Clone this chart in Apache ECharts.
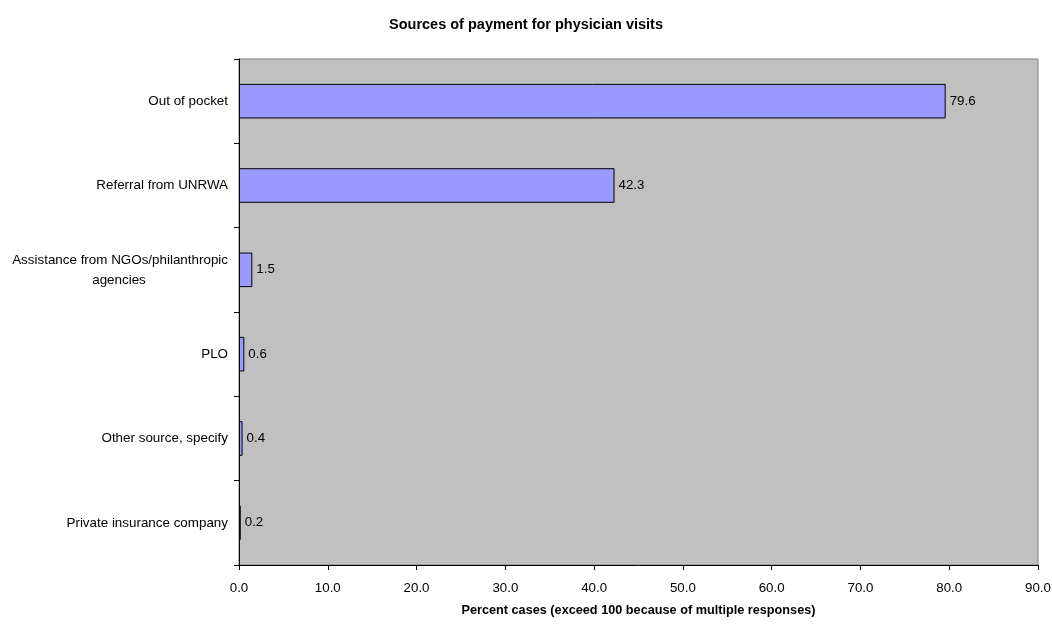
<!DOCTYPE html>
<html><head><meta charset="utf-8">
<script src="https://cdn.jsdelivr.net/npm/echarts@6/dist/echarts.min.js"></script>
<style>html,body{margin:0;padding:0;background:#fff}#c{width:1052px;height:625px}</style>
</head><body><div id="c"></div>
<script>
const categories = ['Private insurance company','Other source, specify','PLO','Assistance from NGOs/philanthropic agencies','Referral from UNRWA','Out of pocket'];
const values = [0.2, 0.4, 0.6, 1.5, 42.3, 79.6];
const xTicks = [0, 10, 20, 30, 40, 50, 60, 70, 80, 90];

const chart = echarts.init(document.getElementById('c'));
const font = "'Liberation Sans', Arial, sans-serif";
chart.setOption({
  animation: false,
  title: {
    text: 'Sources of payment for physician visits',
    left: 'center', top: 12,
    textStyle: { fontFamily: font, fontSize: 14.5, fontWeight: 'bold', color: '#000' }
  },
  grid: {
    left: 239, right: 14, top: 59, bottom: 60, outerBoundsMode: 'none', containLabel: false,
    show: true, backgroundColor: '#C0C0C0', borderColor: '#808080', borderWidth: 1
  },
  xAxis: {
    type: 'value', min: xTicks[0], max: xTicks[xTicks.length-1], interval: 10,
    name: 'Percent cases (exceed 100 because of multiple responses)',
    nameLocation: 'middle', nameGap: 39,
    nameTextStyle: { fontFamily: font, fontSize: 12.7, fontWeight: 'bold', color: '#000' },
    axisLine: { show: true, lineStyle: { color: '#000', width: 1 } },
    axisTick: { show: true, length: 5, lineStyle: { color: '#000' } },
    axisLabel: { fontFamily: font, fontSize: 13.3, color: '#000', margin: 17, formatter: v => v.toFixed(1) },
    splitLine: { show: false }
  },
  yAxis: {
    type: 'category', data: categories,
    axisLine: { show: true, lineStyle: { color: '#000', width: 1 } },
    axisTick: { show: true, length: 5, lineStyle: { color: '#000' } },
    axisLabel: {
      fontFamily: font, fontSize: 13.4, color: '#000', margin: 11, lineHeight: 20,
      formatter: function (v) {
        if (v.indexOf('Assistance') === 0) return '{a|Assistance from NGOs/philanthropic}\n{b|agencies}';
        return v;
      },
      rich: {
        a: { fontFamily: font, fontSize: 13.4, color: '#000', lineHeight: 20 },
        b: { fontFamily: font, fontSize: 13.4, color: '#000', lineHeight: 20, width: 218, align: 'center' }
      }
    }
  },
  series: [{
    type: 'bar', data: values, barCategoryGap: '59%',
    itemStyle: { color: '#9999FF', borderColor: '#000', borderWidth: 1 },
    label: { show: true, position: 'right', distance: 4, fontFamily: font, fontSize: 13.3, color: '#000', formatter: p => p.value.toFixed(1) }
  }]
});
</script></body></html>
